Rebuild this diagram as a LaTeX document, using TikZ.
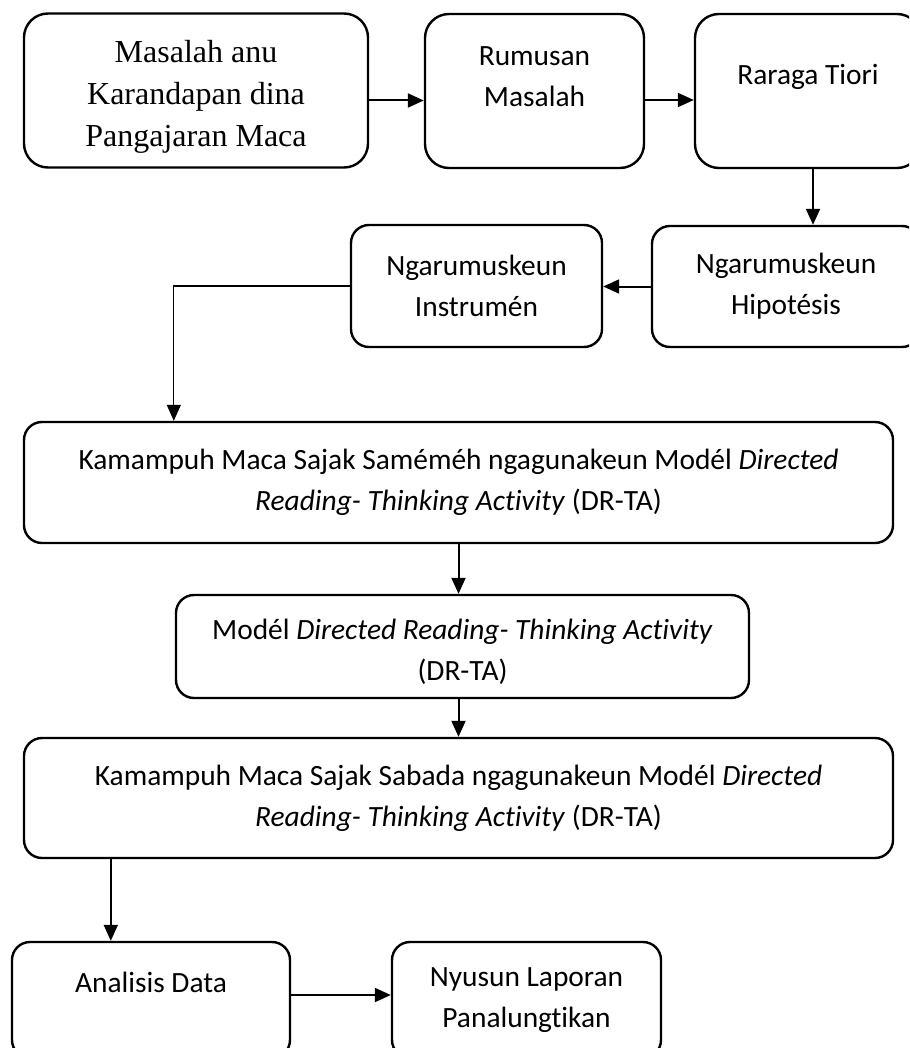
\documentclass[tikz,border=0pt]{standalone}
\usepackage{fontspec}
\setmainfont{Carlito}[Ligatures={NoCommon,NoContextual}]
\newfontfamily\timesfont{Liberation Serif}
\usetikzlibrary{arrows.meta}

\begin{document}
\begin{tikzpicture}[
        x=0.5pt, y=-0.5pt, >={Triangle[length=8pt,width=7pt]},
        box/.style={draw, line width=1.2pt, rounded corners=9pt, inner sep=0pt, align=center,
                    font=\fontsize{14.7}{20.5}\selectfont},
        topbox/.style={box, rounded corners=12pt, minimum height=77pt},
        link/.style={->, line width=1pt},
        ]
        \useasboundingbox (0,0) rectangle (909,1048);
        \clip (0,0) rectangle (909,1048);

        \node[topbox, minimum width=172pt, text height=59pt, font=\timesfont\fontsize{16}{21}\selectfont] (masalah) at (196,90.5) {Masalah anu\\Karandapan dina\\Pangajaran Maca};
        \node[topbox, minimum width=109.5pt, text depth=14.5pt] (rumusan) at (534.5,91) {Rumusan\\Masalah};
        \node[topbox, minimum width=113pt, text depth=17pt] (tiori) at (808,91) {Raraga Tiori};
        \node[box, minimum width=134pt, minimum height=60.5pt] (hipotesis) at (786,286.5) {Ngarumuskeun\\Hipotésis};
        \node[box, minimum width=125.5pt, minimum height=61pt] (instrumen) at (476.5,286) {Ngarumuskeun\\Instrumén};
        \node[box, minimum width=434.5pt, minimum height=60.5pt] (samemeh) at (458.5,482.5) {Kamampuh Maca Sajak Saméméh ngagunakeun Modél \textit{Directed}\\\textit{Reading- Thinking Activity} (DR-TA)};
        \node[box, minimum width=286.5pt, minimum height=51.5pt, text height=36.5pt] (model) at (462.5,646.5) {Modél \textit{Directed Reading- Thinking Activity}\\(DR-TA)};
        \node[box, minimum width=434.5pt, minimum height=60pt] (sabada) at (458.5,798) {Kamampuh Maca Sajak Sabada ngagunakeun Modél \textit{Directed}\\\textit{Reading- Thinking Activity} (DR-TA)};
        \node[box, minimum width=139pt, minimum height=58pt, text depth=18pt] (analisis) at (151,1000) {Analisis Data};
        \node[box, minimum width=134.5pt, minimum height=58pt] (laporan) at (526.5,1000) {Nyusun Laporan\\Panalungtikan};

        \draw[link] ([yshift=-5pt]masalah.east) -- ([yshift=-5pt]masalah.east -| rumusan.west);
        \draw[link] ([yshift=-4.5pt]rumusan.east) -- ([yshift=-4.5pt]rumusan.east -| tiori.west);
        \draw[link] ([xshift=2.5pt]tiori.south) -- ([xshift=2.5pt]tiori.south |- hipotesis.north);
        \draw[link] (hipotesis.west) -- (hipotesis.west -| instrumen.east);
        \draw[->, line width=0.6pt] (instrumen.west) -| ([xshift=75.5pt]samemeh.north west);
        \draw[link] (samemeh.south) -- (samemeh.south |- model.north);
        \draw[link] (model.south -| samemeh.south) -- (sabada.north);
        \draw[link] ([xshift=44pt]sabada.south west) -- ([xshift=44pt]sabada.south west |- analisis.north);
        \draw[link] ([yshift=2.5pt]analisis.east) -- ([yshift=2.5pt]analisis.east -| laporan.west);
      \end{tikzpicture}
\end{document}
